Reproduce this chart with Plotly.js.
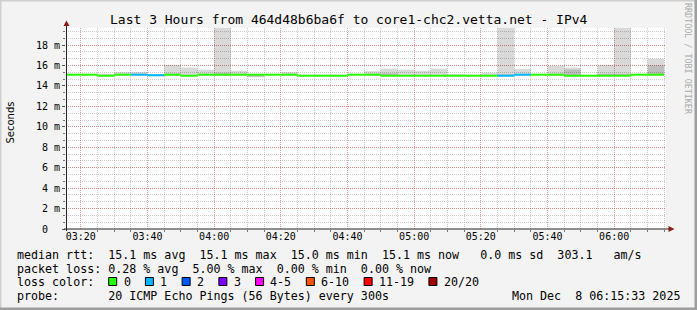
<!DOCTYPE html>
<html><head><meta charset="utf-8">
<script src="https://cdn.plot.ly/plotly-3.0.1.min.js"></script>
<style>html,body{margin:0;padding:0;background:#f3f3f3;}#chart{width:697px;height:310px;}</style>
</head><body><div id="chart"></div>
<script>
const day = '2025-12-08 ';
const stepStart = ['03:15','03:20','03:25','03:30','03:35','03:40','03:45','03:50','03:55',
  '04:00','04:05','04:10','04:15','04:20','04:25','04:30','04:35','04:40','04:45','04:50','04:55',
  '05:00','05:05','05:10','05:15','05:20','05:25','05:30','05:35','05:40','05:45','05:50','05:55',
  '06:00','06:05','06:10'];
const medianMs = [15.1,15.1,15.0,15.1,15.1,15.05,15.1,15.0,15.1,
  15.1,15.1,15.1,15.1,15.1,15.0,15.0,15.0,15.1,15.1,15.0,15.0,
  15.0,15.0,15.0,15.0,15.0,15.0,15.1,15.1,15.1,15.0,15.0,15.0,
  15.0,15.1,15.1];
const lossPings = [0,0,0,0,1,1,0,0,0,
  0,0,0,0,0,0,0,0,0,0,0,0,
  0,0,0,0,0,1,1,0,0,0,0,0,
  0,0,0];
const smokeLo = [15.0,15.0,14.95,15.0,15.05,14.95,15.0,14.95,15.0,
  15.0,15.0,14.85,15.0,15.0,14.95,14.95,14.95,15.0,15.0,14.95,14.95,
  14.95,14.95,14.95,14.95,14.95,14.95,15.0,15.0,15.0,14.95,14.95,14.95,
  14.95,15.0,15.0];
const smokeHi = [15.15,15.15,15.2,15.35,15.35,15.15,16.05,15.8,15.6,
  22,15.5,15.1,15.15,15.35,15.1,15.1,15.1,15.15,15.45,15.7,15.6,
  15.5,15.7,15.15,15.1,15.3,22,15.65,15.15,15.95,15.8,15.05,16.05,
  22,15.15,16.65];
const coreLo = [null,null,null,null,null,null,15.0,null,null,
  15.0,null,14.9,null,null,null,null,null,null,null,14.95,null,
  null,null,null,null,null,15.0,null,null,null,14.95,null,14.95,
  14.95,null,15.0];
const coreHi = [null,null,null,null,null,null,15.2,null,null,
  15.3,null,15.05,null,null,null,null,null,null,null,15.25,null,
  null,null,null,null,null,15.15,null,null,null,15.6,null,15.2,
  15.2,null,16.0];
const lossLabels = ['0','1','2','3','4-5','6-10','11-19','20/20'];
const lossColors = ['#26ff00','#00b8ff','#0059ff','#7e00ff','#ff00ff','#ff5500','#ff0000','#a10000'];
const yTickVals = [0,2,4,6,8,10,12,14,16,18];
const yTickText = ['0  ','2 m','4 m','6 m','8 m','10 m','12 m','14 m','16 m','18 m'];
const statsLine1 = 'median rtt:  15.1 ms avg  15.1 ms max  15.0 ms min  15.1 ms now   0.0 ms sd  303.1   am/s';
const statsLine2 = 'packet loss: 0.28 % avg  5.00 % max  0.00 % min  0.00 % now';
const statsLine3 = 'loss color:';
const probeLine = 'probe:       20 ICMP Echo Pings (56 Bytes) every 300s';
const dateLine = 'Mon Dec  8 06:15:33 2025';
const titleText = 'Last 3 Hours from 464d48b6ba6f to core1-chc2.vetta.net - IPv4';

function bucket(n){ if(n<=3) return n; if(n<=5) return 4; if(n<=10) return 5; if(n<=19) return 6; return 7; }

const L=66, R=666, T=28, B=229, W=R-L, H=B-T;
const px = p => (p-L)/W;
const py = p => (B-p)/H;
const nb = s => s.replace(/ /g,'\u00a0');
const MONO = 'DejaVu Sans Mono';

const xs = stepStart.map(s => day+s);
const traces = [
  {type:'bar', x:xs, base:smokeLo, y:smokeHi.map((h,i)=>h-smokeLo[i]), width:300000, offset:0,
   marker:{color:'rgba(0,0,0,0.15)', line:{width:0}}, hoverinfo:'skip'},
  {type:'bar', x:xs, base:coreLo, y:coreHi.map((h,i)=>h==null?null:h-coreLo[i]), width:300000, offset:0,
   marker:{color:'rgba(0,0,0,0.13)', line:{width:0}}, hoverinfo:'skip'},
  {type:'bar', x:xs, base:medianMs.map(m=>m-0.1), y:medianMs.map(()=>0.2), width:300000, offset:0,
   marker:{color:lossPings.map(n=>lossColors[bucket(n)]), line:{width:0}}, hoverinfo:'skip'}
];

const annotations = [];
function ann(text, x, y, o){
  annotations.push(Object.assign({text:nb(text), xref:'paper', yref:'paper', x:px(x), y:py(y),
    xanchor:'left', yanchor:'middle', showarrow:false, borderpad:0,
    font:{family:MONO, size:11.66, color:'#000'}}, o||{}));
}
ann(titleText, 348.5, 19.5, {xanchor:'center', font:{family:MONO, size:13, color:'#000'}});
ann('Seconds', 10, 122.5, {xanchor:'center', textangle:-90, font:{family:'DejaVu Sans', size:10, color:'#000'}});
ann('RRDTOOL / TOBI OETIKER', 688, 59, {xanchor:'center', textangle:90, font:{family:MONO, size:8.4, color:'#aaaaaa'}});
ann(statsLine1, 15.5, 254.5);
ann(statsLine2, 15.5, 268.5);
ann(statsLine3, 15.5, 282.3);
ann(probeLine, 15.5, 296.2);
ann(dateLine, 681, 296.2, {xanchor:'right'});

const shapes = [];
let sx = 108.7;
lossLabels.forEach((lab,i)=>{
  shapes.push({type:'rect', xref:'paper', yref:'paper', x0:px(sx), x1:px(sx+8), y0:py(285.5), y1:py(277.5),
    fillcolor:lossColors[i], line:{color:'#000', width:1}});
  ann(lab, sx+13.8, 282.3);
  sx += 29.7 + 7.02*lab.length;
});
shapes.push({type:'line', xref:'paper', yref:'paper', x0:px(66.5), x1:px(66.5), y0:py(231), y1:py(24), line:{color:'#222', width:1}});
shapes.push({type:'line', xref:'paper', yref:'paper', x0:px(64), x1:px(670), y0:py(229), y1:py(229), line:{color:'#222', width:1}});
shapes.push({type:'path', xref:'paper', yref:'paper',
  path:`M ${px(66.5)} ${py(20.5)} L ${px(63.5)} ${py(26)} L ${px(69.5)} ${py(26)} Z`, fillcolor:'#8e1a1a', line:{width:0}});
shapes.push({type:'path', xref:'paper', yref:'paper',
  path:`M ${px(674.5)} ${py(229)} L ${px(668.5)} ${py(226)} L ${px(668.5)} ${py(232)} Z`, fillcolor:'#8e1a1a', line:{width:0}});
shapes.push({type:'rect', xref:'paper', yref:'paper', x0:px(0), x1:px(697), y0:py(0), y1:py(1.5), fillcolor:'#cfcfcf', line:{width:0}, layer:'below'});
shapes.push({type:'rect', xref:'paper', yref:'paper', x0:px(0), x1:px(1.5), y0:py(0), y1:py(310), fillcolor:'#cfcfcf', line:{width:0}, layer:'below'});
shapes.push({type:'rect', xref:'paper', yref:'paper', x0:px(0), x1:px(697), y0:py(307.5), y1:py(310), fillcolor:'#9e9e9e', line:{width:0}, layer:'below'});
shapes.push({type:'rect', xref:'paper', yref:'paper', x0:px(694.5), x1:px(697), y0:py(0), y1:py(310), fillcolor:'#9e9e9e', line:{width:0}, layer:'below'});

const majorGrid = 'rgba(222,94,94,0.6)';
const minorGrid = 'rgba(140,140,140,0.45)';
const layout = {
  width:697, height:310, autosize:false,
  margin:{l:L, r:697-R, t:T, b:310-B, pad:0},
  paper_bgcolor:'#f3f3f3', plot_bgcolor:'#ffffff',
  showlegend:false, barmode:'overlay',
  xaxis:{type:'date', range:[day+'03:15:33', day+'06:15:33'], tick0:day+'03:20', dtick:1200000,
    tickformat:'%H:%M', showgrid:true, gridcolor:majorGrid, griddash:'1px,1px', gridwidth:1,
    ticks:'', showline:false, zeroline:false,
    tickfont:{family:MONO, size:10, color:'#000'},
    minor:{dtick:300000, tick0:day+'03:15', showgrid:true, gridcolor:minorGrid, griddash:'1px,1px', ticks:'outside', ticklen:2, tickcolor:'#777'},
    fixedrange:true},
  yaxis:{range:[0,19.67], tickmode:'array', tickvals:yTickVals, ticktext:yTickText.map(nb),
    showgrid:true, gridcolor:majorGrid, griddash:'1px,1px', gridwidth:1,
    ticks:'outside', ticklen:3, tickcolor:'#555', showline:false, zeroline:false,
    tickfont:{family:MONO, size:10, color:'#000'},
    minor:{dtick:2/3, tick0:0, showgrid:true, gridcolor:minorGrid, griddash:'1px,1px', ticks:'outside', ticklen:2, tickcolor:'#777'},
    fixedrange:true},
  shapes:shapes, annotations:annotations
};
Plotly.newPlot('chart', traces, layout, {staticPlot:true, displayModeBar:false});
</script></body></html>
